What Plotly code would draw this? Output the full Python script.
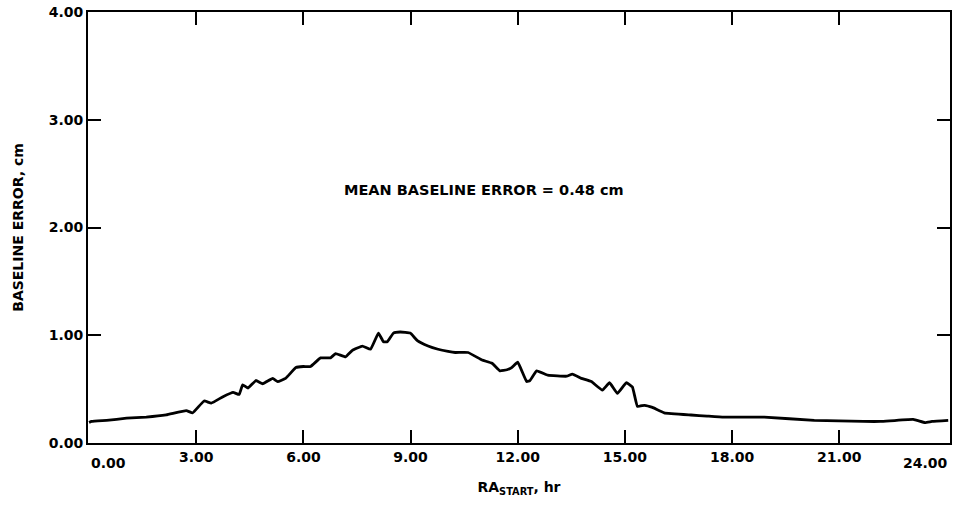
import plotly.graph_objects as go

# RA start (hr) and baseline error (cm)
ra_hr = [0.0, 0.07, 0.49, 1.05, 1.6, 2.16, 2.72, 2.9, 3.22, 3.42, 3.75, 4.03, 4.2, 4.3, 4.45,
         4.67, 4.86, 5.14, 5.28, 5.5, 5.79, 6.0, 6.2, 6.48, 6.76, 6.9, 7.18, 7.37, 7.65,
         7.88, 8.1, 8.24, 8.35, 8.52, 8.71, 8.99, 9.19, 9.49, 9.77, 10.05, 10.25, 10.61,
         11.0, 11.28, 11.5, 11.7, 11.83, 12.0, 12.25, 12.34, 12.53, 12.84, 13.37, 13.53,
         13.78, 14.06, 14.37, 14.57, 14.79, 15.04, 15.21, 15.35, 15.55, 15.77, 16.1, 16.85,
         17.3, 17.77, 18.9, 20.3, 21.68, 22.15, 23.07, 23.4, 23.6, 24.05]
error_cm = [0.19, 0.20, 0.21, 0.23, 0.24, 0.26, 0.30, 0.28, 0.39, 0.37, 0.43, 0.47, 0.45, 0.54, 0.51,
            0.58, 0.55, 0.60, 0.57, 0.60, 0.70, 0.71, 0.71, 0.79, 0.79, 0.83, 0.80, 0.86, 0.90,
            0.87, 1.02, 0.94, 0.94, 1.02, 1.03, 1.02, 0.95, 0.90, 0.87, 0.85, 0.84, 0.84,
            0.77, 0.74, 0.67, 0.68, 0.70, 0.75, 0.57, 0.58, 0.67, 0.63, 0.62, 0.64,
            0.60, 0.57, 0.49, 0.56, 0.46, 0.56, 0.52, 0.34, 0.35, 0.33, 0.28, 0.26,
            0.25, 0.24, 0.24, 0.21, 0.20, 0.20, 0.22, 0.19, 0.20, 0.21]

x_tickvals = [3, 6, 9, 12, 15, 18, 21]
x_ticktext = ["3.00", "6.00", "9.00", "12.00", "15.00", "18.00", "21.00"]
x_end_labels = [(0, "0.00", "left"), (24.1, "24.00", "right")]
y_tickvals = [0, 1, 2, 3, 4]
y_ticktext = ["0.00", "1.00", "2.00", "3.00", "4.00"]

FONT = "DejaVu Sans"

fig = go.Figure()
fig.add_trace(go.Scatter(x=ra_hr, y=error_cm, mode="lines",
                         line=dict(color="black", width=2.8, shape="spline", smoothing=0.3),
                         showlegend=False, hoverinfo="skip"))

fig.update_layout(
    width=956, height=506,
    margin=dict(l=88, r=4, t=12, b=63),
    paper_bgcolor="white", plot_bgcolor="white",
    font=dict(family=FONT, size=14, color="black", weight="bold"),
    annotations=[
        dict(x=11.05, y=2.35, xref="x", yref="y", text="MEAN BASELINE ERROR = 0.48 cm",
             showarrow=False, font=dict(family=FONT, size=14.5, color="black", weight="bold")),
    ] + [
        dict(x=xv, y=0, xref="x", yref="paper", text=t, xanchor=anc, yanchor="top",
             yshift=-10, showarrow=False,
             font=dict(family=FONT, size=14, color="black", weight="bold"))
        for xv, t, anc in x_end_labels
    ],
)

fig.update_xaxes(
    range=[-0.03, 24.1], tickvals=x_tickvals, ticktext=x_ticktext,
    ticks="inside", ticklen=13, tickwidth=2, tickcolor="black",
    showline=True, linecolor="black", linewidth=2, mirror="ticks",
    showgrid=False, zeroline=False,
    tickfont=dict(family=FONT, size=14, color="black", weight="bold"),
    title=dict(text="RA<sub>START</sub>, hr", standoff=18,
               font=dict(family=FONT, size=14, color="black", weight="bold")),
)
fig.update_yaxes(
    range=[0, 4], tickvals=y_tickvals, ticktext=y_ticktext,
    ticks="inside", ticklen=13, tickwidth=2, tickcolor="black",
    showline=True, linecolor="black", linewidth=2, mirror="ticks",
    showgrid=False, zeroline=False,
    tickfont=dict(family=FONT, size=14, color="black", weight="bold"),
    title=dict(text="BASELINE ERROR, cm", standoff=22,
               font=dict(family=FONT, size=14, color="black", weight="bold")),
)

fig.write_html("out.html")
